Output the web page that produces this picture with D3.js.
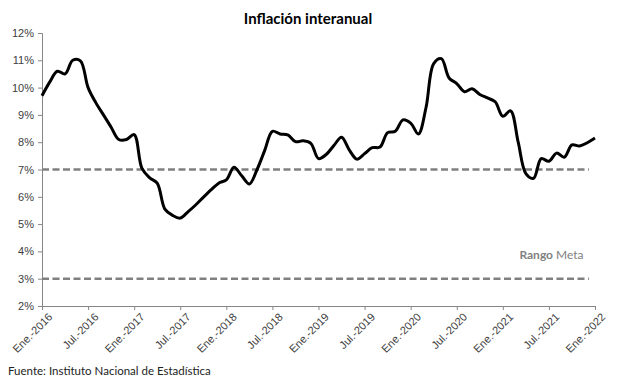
<!DOCTYPE html>
<html>
<head>
<meta charset="utf-8">
<script src="https://cdn.jsdelivr.net/npm/d3@7"></script>
<style>
  body { margin: 0; background: #fff; }
  svg { font-family: Lato, "Open Sans", sans-serif; }
</style>
</head>
<body>
<div id="chart"></div>
<script>
// inflación interanual mensual, ene-2016 .. ene-2022
const inflation = [
  9.7, 10.2, 10.6, 10.5, 11.0, 10.98, 10.0, 9.45, 9.0, 8.55, 8.1, 8.1,
  8.28, 7.05, 6.7, 6.5, 5.55, 5.32, 5.22, 5.45, 5.7, 5.98, 6.25, 6.5,
  6.62, 7.08, 6.77, 6.47, 7.0, 7.7, 8.4, 8.3, 8.27, 8.02, 8.05, 7.96,
  7.4, 7.55, 7.88, 8.18, 7.72, 7.38, 7.58, 7.8, 7.82, 8.35, 8.4, 8.82,
  8.7, 8.3, 9.27, 10.88, 11.06, 10.35, 10.15, 9.85, 9.96, 9.75, 9.62, 9.48,
  8.95, 9.15, 8.0, 6.85, 6.68, 7.4, 7.3, 7.6, 7.45, 7.9, 7.86, 7.98,
  8.15
];
const tickLabels = [
  "Ene.-2016", "Jul.-2016", "Ene.-2017", "Jul.-2017", "Ene.-2018", "Jul.-2018",
  "Ene.-2019", "Jul.-2019", "Ene.-2020", "Jul.-2020", "Ene.-2021", "Jul.-2021", "Ene.-2022"
];
const yTicks = [2, 3, 4, 5, 6, 7, 8, 9, 10, 11, 12];
const targetRange = [3, 7];

let width = 617, height = 381;
let margin = { top: 33, right: 22, bottom: 75, left: 42 };

let svg = d3.select("#chart")
  .append("svg")
  .attr("width", width)
  .attr("height", height);

let x = d3.scaleLinear()
  .domain([0, inflation.length - 1])
  .range([margin.left, width - margin.right]);

let y = d3.scaleLinear()
  .domain([2, 12])
  .range([height - margin.bottom, margin.top]);

// title
svg.append("text")
  .attr("x", 308)
  .attr("y", 24)
  .attr("text-anchor", "middle")
  .style("font-size", "15px")
  .style("font-weight", "bold")
  .text("Inflación interanual");

// y axis
let yAxis = svg.append("g")
  .attr("transform", "translate(" + margin.left + ",0)")
  .call(d3.axisLeft(y).tickValues(yTicks).tickSize(4).tickPadding(4)
    .tickFormat(d => d + "%"));
yAxis.select(".domain").attr("stroke", "#868686");
yAxis.selectAll(".tick line").attr("stroke", "#868686");
yAxis.selectAll("text").attr("fill", "#404040").style("font-size", "11px");

// x axis
let xAxis = svg.append("g")
  .attr("transform", "translate(0," + y(2) + ")")
  .call(d3.axisBottom(x).tickValues(tickLabels.map((d, i) => i * 6))
    .tickSize(4).tickFormat((d, i) => tickLabels[i]));
xAxis.select(".domain").attr("stroke", "#868686");
xAxis.selectAll(".tick line").attr("stroke", "#868686");
xAxis.selectAll("text")
  .attr("fill", "#404040")
  .style("font-size", "11px")
  .attr("text-anchor", "end")
  .attr("dy", "0.35em")
  .attr("transform", "translate(3,4) rotate(-45)");

// rango meta
svg.selectAll(".target")
  .data(targetRange)
  .enter()
  .append("line")
  .attr("x1", x(0))
  .attr("x2", x(71.2))
  .attr("y1", d => y(d))
  .attr("y2", d => y(d))
  .attr("stroke", "#808080")
  .attr("stroke-width", 2.5)
  .attr("stroke-dasharray", "7,3.5");

let rango = svg.append("text")
  .attr("x", x(70.5))
  .attr("y", y(3.72))
  .attr("text-anchor", "end")
  .attr("fill", "#808080")
  .style("font-size", "12px");
rango.append("tspan").style("font-weight", "bold").text("Rango ");
rango.append("tspan").text("Meta");

// serie
let line = d3.line()
  .x((d, i) => x(i))
  .y(d => y(d))
  .curve(d3.curveCatmullRom.alpha(0.5));

svg.append("path")
  .datum(inflation)
  .attr("d", line)
  .attr("fill", "none")
  .attr("stroke", "#000")
  .attr("stroke-width", 3)
  .attr("stroke-linejoin", "round");

// fuente
svg.append("text")
  .attr("x", 8)
  .attr("y", 375)
  .attr("fill", "#222")
  .style("font-size", "11.5px")
  .text("Fuente: Instituto Nacional de Estadística");
</script>
</body>
</html>
